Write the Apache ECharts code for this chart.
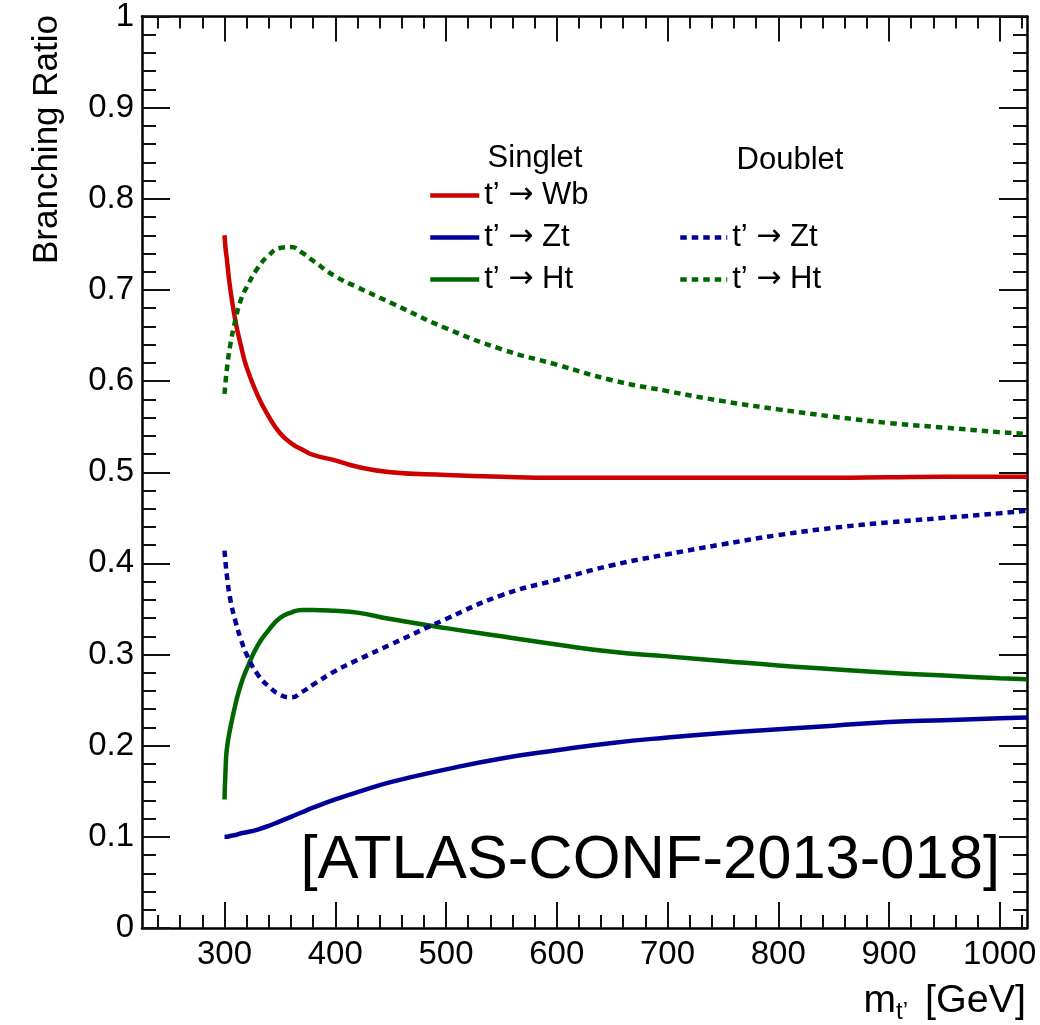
<!DOCTYPE html>
<html>
<head>
<meta charset="utf-8">
<script src="https://cdn.jsdelivr.net/npm/echarts@6/dist/echarts.min.js"></script>
<style>
  html, body { margin: 0; padding: 0; background: #fff; }
  #chart { width: 1040px; height: 1025px; }
</style>
</head>
<body>
<div id="chart"></div>
<script>
// Vector-like top partner t' : branching ratios vs. mass
const massGrid = [300, 301, 302, 305, 310, 315, 320, 330, 340, 350, 360, 370, 380, 400, 420, 450, 500, 550, 600, 650, 700, 750, 800, 850, 900, 950, 1000, 1025];

const singletWb = [0.760, 0.745, 0.735, 0.703, 0.665, 0.638, 0.615, 0.584, 0.561, 0.543, 0.532, 0.525, 0.519, 0.513, 0.506, 0.500, 0.497, 0.495, 0.494, 0.494, 0.494, 0.494, 0.494, 0.494, 0.4945, 0.495, 0.495, 0.495];
const singletZt = [0.100, 0.100, 0.100, 0.101, 0.102, 0.104, 0.105, 0.108, 0.112, 0.117, 0.122, 0.127, 0.132, 0.141, 0.149, 0.160, 0.174, 0.186, 0.195, 0.203, 0.209, 0.214, 0.218, 0.222, 0.226, 0.228, 0.230, 0.231];
const singletHt = [0.141, 0.175, 0.195, 0.218, 0.246, 0.268, 0.284, 0.310, 0.327, 0.340, 0.346, 0.349, 0.349, 0.348, 0.346, 0.339, 0.329, 0.320, 0.311, 0.303, 0.298, 0.293, 0.288, 0.284, 0.280, 0.277, 0.274, 0.273];
const doubletZt = [0.414, 0.400, 0.388, 0.362, 0.336, 0.316, 0.300, 0.278, 0.265, 0.256, 0.253, 0.259, 0.267, 0.282, 0.294, 0.311, 0.339, 0.365, 0.382, 0.398, 0.410, 0.421, 0.431, 0.439, 0.445, 0.450, 0.455, 0.458];
const doubletHt = [0.586, 0.600, 0.612, 0.638, 0.668, 0.690, 0.703, 0.724, 0.738, 0.746, 0.747, 0.741, 0.732, 0.715, 0.703, 0.686, 0.658, 0.635, 0.618, 0.601, 0.589, 0.578, 0.569, 0.561, 0.554, 0.549, 0.544, 0.542];

// axis ticks
const massMajorTicks = [300, 400, 500, 600, 700, 800, 900, 1000];
const massMinorTicks = [240, 260, 280, 320, 340, 360, 380, 420, 440, 460, 480, 520, 540, 560, 580, 620, 640, 660, 680, 720, 740, 760, 780, 820, 840, 860, 880, 920, 940, 960, 980, 1020];
const massRange = [225.5, 1024.6];

const legendLabels = {
  sWb: 't’ {a|→} Wb',
  sZt: 't’ {a|→} Zt',
  sHt: 't’ {a|→} Ht',
  dZt: 't’ {a|→} Zt',
  dHt: 't’ {a|→} Ht'
};

const FONT = '"Liberation Sans", Arial, Helvetica, sans-serif';
const ARROW_FONT = '"DejaVu Sans", sans-serif';
const RED = '#cc0000', BLUE = '#000099', GREEN = '#006600';
const DOTS = [6.5, 5];
const LINE_W = 4.5;

const pairs = (ys) => massGrid.map((m, i) => [m, ys[i]]);

function curve(name, ys, color, dashed) {
  return {
    name: name,
    type: 'line',
    data: pairs(ys),
    symbol: 'none',
    smooth: 0.5,
    clip: true,
    lineStyle: { color: color, width: LINE_W, type: dashed ? DOTS : 'solid', cap: 'butt' },
    itemStyle: { color: color },
    emphasis: { disabled: true },
    z: 3
  };
}

function massAxis(position, ticks, len, main) {
  return {
    type: 'value',
    position: position,
    min: massRange[0],
    max: massRange[1],
    axisLine: { show: main, onZero: false, lineStyle: { color: '#000', width: 2.5 } },
    axisTick: { show: true, inside: true, length: len, customValues: ticks, lineStyle: { color: '#111', width: 2 } },
    axisLabel: main && position === 'bottom'
      ? { show: true, customValues: massMajorTicks, formatter: (v) => String(v),
          fontFamily: FONT, fontSize: 33, color: '#000', margin: 10 }
      : { show: false },
    splitLine: { show: false },
    minorTick: { show: false },
    minorSplitLine: { show: false }
  };
}

function ratioAxis(position, labels) {
  return {
    type: 'value',
    position: position,
    min: 0,
    max: 1,
    interval: 0.1,
    axisLine: { show: true, onZero: false, lineStyle: { color: '#000', width: 2.5 } },
    axisTick: { show: true, inside: true, length: 28, lineStyle: { color: '#111', width: 2 } },
    minorTick: { show: true, splitNumber: 5, length: 14, lineStyle: { color: '#111', width: 2 } },
    axisLabel: labels
      ? { show: true, fontFamily: FONT, fontSize: 33, color: '#000', margin: 8 }
      : { show: false },
    splitLine: { show: false },
    minorSplitLine: { show: false }
  };
}

const legendCommon = {
  orient: 'vertical',
  padding: 0,
  itemHeight: 14,
  itemGap: 11,
  selectedMode: false,
  itemStyle: { opacity: 0 },
  lineStyle: { width: LINE_W },
  textStyle: {
    fontFamily: FONT, fontSize: 31, color: '#000', lineHeight: 30,
    rich: { a: { fontFamily: ARROW_FONT, fontSize: 30, color: '#000', lineHeight: 30 } }
  },
  formatter: (n) => legendLabels[n]
};

const chart = echarts.init(document.getElementById('chart'), null, { renderer: 'canvas' });

chart.setOption({
  animation: false,
  backgroundColor: '#fff',
  grid: { left: 142, right: 13, top: 16, bottom: 97, containLabel: false },
  xAxis: [
    massAxis('bottom', massMajorTicks, 26, true),
    massAxis('bottom', massMinorTicks, 13, false),
    massAxis('top', massMajorTicks, 25, true),
    massAxis('top', massMinorTicks, 12, false)
  ],
  yAxis: [
    ratioAxis('left', true),
    ratioAxis('right', false)
  ],
  legend: [
    Object.assign({}, legendCommon, { data: ['sWb', 'sZt', 'sHt'], left: 428, top: 180, itemWidth: 49 }),
    Object.assign({}, legendCommon, { data: ['dZt', 'dHt'], left: 678, top: 222, itemWidth: 47 })
  ],
  series: [
    curve('sWb', singletWb, RED, false),
    curve('sZt', singletZt, BLUE, false),
    curve('sHt', singletHt, GREEN, false),
    curve('dZt', doubletZt, BLUE, true),
    curve('dHt', doubletHt, GREEN, true)
  ],
  graphic: [
    {
      type: 'text', x: 47, y: 15, rotation: Math.PI / 2,
      style: { text: 'Branching Ratio', font: '35px ' + FONT, fill: '#000',
               align: 'right', textAlign: 'right', verticalAlign: 'middle', textVerticalAlign: 'middle' }
    },
    {
      type: 'text', x: 1026, y: 1001,
      style: { text: '[GeV]', font: '39.5px ' + FONT, fill: '#000',
               align: 'right', textAlign: 'right', verticalAlign: 'middle', textVerticalAlign: 'middle' }
    },
    {
      type: 'text', x: 896, y: 1012,
      style: { text: 't’', font: '24px ' + FONT, fill: '#000',
               align: 'left', textAlign: 'left', verticalAlign: 'middle', textVerticalAlign: 'middle' }
    },
    {
      type: 'text', x: 896, y: 1001,
      style: { text: 'm', font: '39px ' + FONT, fill: '#000',
               align: 'right', textAlign: 'right', verticalAlign: 'middle', textVerticalAlign: 'middle' }
    },
    {
      type: 'text', x: 535, y: 158,
      style: { text: 'Singlet', font: '31px ' + FONT, fill: '#000',
               align: 'center', textAlign: 'center', verticalAlign: 'middle', textVerticalAlign: 'middle' }
    },
    {
      type: 'text', x: 790, y: 160,
      style: { text: 'Doublet', font: '31px ' + FONT, fill: '#000',
               align: 'center', textAlign: 'center', verticalAlign: 'middle', textVerticalAlign: 'middle' }
    },
    {
      type: 'text', x: 1000, y: 861,
      style: { text: '[ATLAS-CONF-2013-018]', font: '61.5px ' + FONT, fill: '#000',
               align: 'right', textAlign: 'right', verticalAlign: 'middle', textVerticalAlign: 'middle' }
    }
  ]
});
</script>
</body>
</html>
